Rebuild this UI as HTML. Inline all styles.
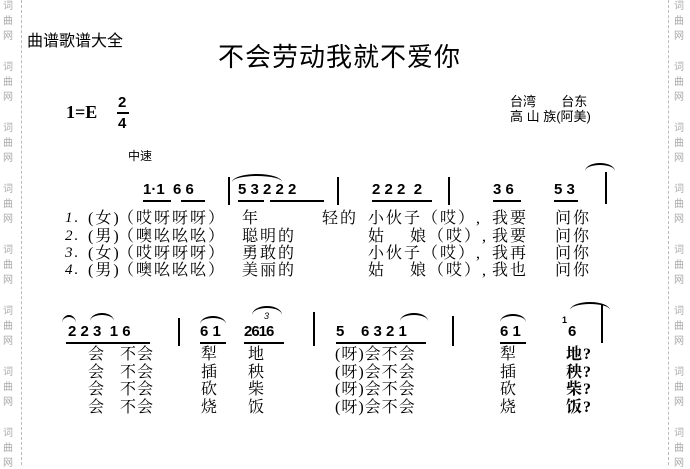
<!DOCTYPE html>
<html><head><meta charset="utf-8"><style>
body{margin:0;width:690px;height:465px;background:#fff;position:relative;overflow:hidden;font-family:"Liberation Sans","Noto Sans CJK SC",sans-serif;color:#000}
.a{position:absolute;white-space:pre;line-height:1}
.wm{position:absolute;font-size:10px;color:#aaa;line-height:1}
.vl{position:absolute;top:0;height:465px;border-left:1px dashed #bbb}
.n{font-family:"Liberation Sans",sans-serif;font-weight:bold;font-size:15px}
.l{font-family:"Liberation Serif","Noto Serif CJK SC",serif;font-size:16px;letter-spacing:1px}
.r{position:absolute;white-space:pre;line-height:1;font-family:"Liberation Serif","Noto Serif CJK SC",serif;font-size:16px;letter-spacing:2px}
.bar{position:absolute;width:2px;background:#000}
.ul{position:absolute;height:1.5px;background:#000}
.arc{position:absolute;border-top:2px solid #000;border-radius:50% 50% 0 0/100% 100% 0 0}
</style></head><body>
<div class="vl" style="left:21px"></div><div class="vl" style="left:668px"></div>
<div id="wm"></div>
<script>
var h='';for(var i=0;i<8;i++){var y=2+i*61;['词','曲','网'].forEach(function(c,j){h+='<div class="wm" style="left:3px;top:'+(y+j*15)+'px">'+c+'</div><div class="wm" style="left:674px;top:'+(y+j*15)+'px">'+c+'</div>';});}
document.getElementById('wm').innerHTML=h;
var L=[['1.','(女)','（哎呀呀呀）','年','轻的','小伙子（哎）,','我要','问你'],
['2.','(男)','（噢吆吆吆）','聪明的','','姑&nbsp;&nbsp;&nbsp; 娘（哎）,','我要','问你'],
['3.','(女)','（哎呀呀呀）','勇敢的','','小伙子（哎）,','我再','问你'],
['4.','(男)','（噢吆吆吆）','美丽的','','姑&nbsp;&nbsp;&nbsp; 娘（哎）,','我也','问你']];
var X=[65,88,118,242,322,368,492,555];var T=[211,229,246,263];var s='';
L.forEach(function(r,i){r.forEach(function(t,j){if(t)s+='<div class="r" style="left:'+X[j]+'px;top:'+T[i]+'px'+(j==0?';font-style:italic;font-size:15px':'')+'">'+t+'</div>';});});
document.body.insertAdjacentHTML('beforeend',s);
</script>
<div class="a" style="left:27px;top:34px;font-size:16px">曲谱歌谱大全</div>
<div class="a" style="left:218px;top:44px;font-size:26px;letter-spacing:1px">不会劳动我就不爱你</div>
<div class="a" style="left:66px;top:103px;font-size:18px;font-weight:bold;font-family:'Liberation Serif',serif">1=E</div>
<div class="a" style="left:118px;top:95px;font-size:15px;font-weight:bold">2</div>
<div class="ul" style="left:117px;top:112px;width:12px"></div>
<div class="a" style="left:118px;top:116px;font-size:15px;font-weight:bold">4</div>
<div class="a" style="left:510px;top:95px;font-size:13px">台湾&nbsp;&nbsp;&nbsp;&nbsp;&nbsp;&nbsp;&nbsp;台东</div>
<div class="a" style="left:510px;top:110px;font-size:13px">高 山 族(阿美)</div>
<div class="a" style="left:128px;top:150px;font-size:12px">中速</div>

<div class="a n" style="left:143px;top:182px">1·1&nbsp; 6 6</div>
<div class="ul" style="left:143px;top:200px;width:28px"></div><div class="ul" style="left:181px;top:200px;width:24px"></div>
<div class="bar" style="left:228px;top:177px;height:28px"></div>
<div class="arc" style="left:232px;top:174px;width:50px;height:6px"></div>
<div class="a n" style="left:238px;top:182px">5 3 2 2 2</div>
<div class="ul" style="left:238px;top:200px;width:26px"></div><div class="ul" style="left:270px;top:200px;width:54px"></div>
<div class="bar" style="left:337px;top:177px;height:28px"></div>
<div class="a n" style="left:372px;top:182px">2 2 2&nbsp; 2</div>
<div class="ul" style="left:372px;top:200px;width:60px"></div>
<div class="bar" style="left:448px;top:177px;height:28px"></div>
<div class="a n" style="left:493px;top:182px">3 6</div>
<div class="ul" style="left:493px;top:200px;width:28px"></div>
<div class="a n" style="left:554px;top:182px">5 3</div>
<div class="ul" style="left:554px;top:200px;width:24px"></div>
<div class="arc" style="left:585px;top:163px;width:30px;height:6px"></div>
<div class="bar" style="left:605px;top:172px;height:32px"></div>

<div class="arc" style="left:62px;top:315px;width:14px;height:6px"></div>
<div class="arc" style="left:90px;top:313px;width:24px;height:6px"></div>
<div class="a n" style="left:68px;top:324px">2 2 3&nbsp; 1 6</div>
<div class="ul" style="left:66px;top:342px;width:84px"></div>
<div class="bar" style="left:178px;top:318px;height:28px"></div>
<div class="arc" style="left:200px;top:316px;width:26px;height:6px"></div>
<div class="a n" style="left:200px;top:324px">6 1</div>
<div class="ul" style="left:200px;top:342px;width:26px"></div>
<div class="arc" style="left:252px;top:306px;width:30px;height:7px"></div>
<div class="a" style="left:264px;top:312px;font-size:9px;font-style:italic">3</div>
<div class="a n" style="left:244px;top:324px;letter-spacing:-1px">2616</div>
<div class="ul" style="left:244px;top:342px;width:40px"></div>
<div class="bar" style="left:313px;top:312px;height:34px"></div>
<div class="arc" style="left:400px;top:313px;width:28px;height:6px"></div>
<div class="a n" style="left:336px;top:324px">5&nbsp;&nbsp;&nbsp; 6 3 2 1</div>
<div class="ul" style="left:336px;top:342px;width:90px"></div>
<div class="bar" style="left:452px;top:316px;height:30px"></div>
<div class="arc" style="left:500px;top:314px;width:26px;height:6px"></div>
<div class="a n" style="left:500px;top:324px">6 1</div>
<div class="ul" style="left:500px;top:342px;width:26px"></div>
<div class="a" style="left:562px;top:316px;font-size:9px;font-weight:bold">1</div>
<div class="a n" style="left:568px;top:324px">6</div>
<div class="arc" style="left:570px;top:302px;width:40px;height:6px"></div>
<div class="bar" style="left:601px;top:305px;height:38px"></div>

<div class="a l" style="left:88px;top:346px;line-height:17.5px">会<br>会<br>会<br>会</div>
<div class="a l" style="left:120px;top:346px;line-height:17.5px">不会<br>不会<br>不会<br>不会</div>
<div class="a l" style="left:201px;top:346px;line-height:17.5px">犁<br>插<br>砍<br>烧</div>
<div class="a l" style="left:248px;top:346px;line-height:17.5px">地<br>秧<br>柴<br>饭</div>
<div class="a l" style="left:335px;top:346px;line-height:17.5px">(呀)会不会<br>(呀)会不会<br>(呀)会不会<br>(呀)会不会</div>
<div class="a l" style="left:500px;top:346px;line-height:17.5px">犁<br>插<br>砍<br>烧</div>
<div class="a l" style="left:566px;top:346px;line-height:17.5px;font-weight:bold">地?<br>秧?<br>柴?<br>饭?</div>
</body></html>
